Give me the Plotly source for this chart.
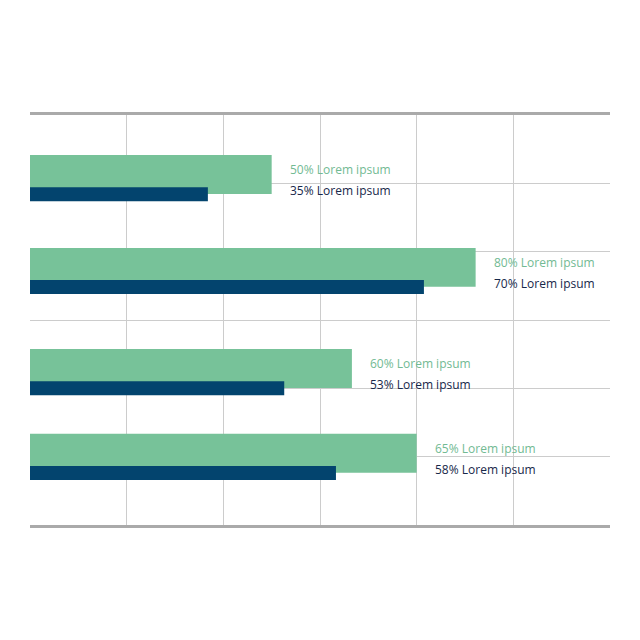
import plotly.graph_objects as go

# Data
rows = [5.13, 3.77, 2.29, 1.05]          # row centres on the y scale (0-6)
green_vals = [50.0, 92.2, 66.6, 80.0]    # bar lengths on the x scale (0-120)
navy_vals = [36.8, 81.5, 52.6, 63.3]
green_labels = ["50% Lorem ipsum", "80% Lorem ipsum", "60% Lorem ipsum", "65% Lorem ipsum"]
navy_labels = ["35% Lorem ipsum", "70% Lorem ipsum", "53% Lorem ipsum", "58% Lorem ipsum"]

GREEN = "#77C299"
NAVY = "#03446E"
GREEN_TXT = "#72BA93"
NAVY_TXT = "#17284A"

fig = go.Figure()

fig.add_trace(go.Bar(
    x=green_vals,
    y=rows,
    orientation="h",
    width=0.57,
    marker=dict(color=GREEN, line=dict(width=0)),
    hoverinfo="skip",
))

# navy bar sits just under the lower edge of the green one
fig.add_trace(go.Bar(
    x=navy_vals,
    y=[r - 0.288 for r in rows],
    orientation="h",
    width=0.205,
    marker=dict(color=NAVY, line=dict(width=0)),
    hoverinfo="skip",
))

annotations = []
for r, gv, gl, nl in zip(rows, green_vals, green_labels, navy_labels):
    annotations.append(dict(
        x=gv, y=r, text=gl, showarrow=False,
        xanchor="left", yanchor="middle", xshift=16, yshift=5,
        font=dict(color=GREEN_TXT, size=12),
    ))
    annotations.append(dict(
        x=gv, y=r, text=nl, showarrow=False,
        xanchor="left", yanchor="middle", xshift=16, yshift=-16,
        font=dict(color=NAVY_TXT, size=12),
    ))

# page body adds 8px, so margins are shifted to keep the plot at 30..610 / 115..525
fig.update_layout(
    width=640,
    height=640,
    barmode="overlay",
    showlegend=False,
    plot_bgcolor="white",
    paper_bgcolor="white",
    margin=dict(l=22, r=38, t=107, b=123),
    font=dict(family="Open Sans, sans-serif"),
    annotations=annotations,
)

fig.update_xaxes(
    range=[0, 120],
    tickvals=[20, 40, 60, 80, 100],
    showticklabels=False,
    showgrid=True,
    gridcolor="#CCCCCC",
    gridwidth=1,
    zeroline=False,
    showline=True,
    mirror=True,
    linecolor="#AAAAAA",
    linewidth=3,
    ticks="",
)
fig.update_yaxes(
    range=[0, 6],
    tickvals=[1, 2, 3, 4, 5],
    showticklabels=False,
    showgrid=True,
    gridcolor="#CCCCCC",
    gridwidth=1,
    zeroline=False,
    showline=False,
    ticks="",
)

fig.write_html("out.html")
